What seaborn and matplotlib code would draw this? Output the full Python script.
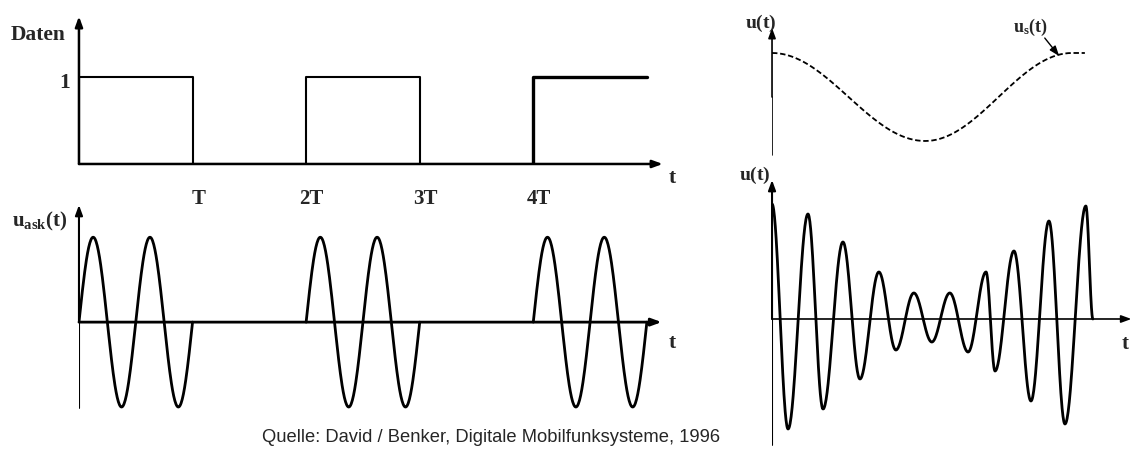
import numpy as np
import pandas as pd
import matplotlib
matplotlib.use("Agg")
import matplotlib.pyplot as plt
import seaborn as sns

# Data: bit sequence and ASK carrier
bits = [1, 0, 1, 0, 1]
bit_labels = ["T", "2T", "3T", "4T"]
cycles_per_bit = 2

# Envelope u_s(t) (top right): extrema
env_t = [0.0, 0.477, 0.935, 0.975]
env_u = [1.0, -1.0, 1.0, 1.0]

# Modulated signal u(t) (bottom right): extrema
mod_t = [0.000, 0.050, 0.112, 0.159, 0.221, 0.274, 0.333, 0.386, 0.442, 0.498,
         0.554, 0.611, 0.667, 0.695, 0.754, 0.807, 0.863, 0.913, 0.978, 1.000]
mod_u = [1.15, -1.10, 1.05, -0.90, 0.77, -0.60, 0.47, -0.31, 0.26, -0.23,
         0.26, -0.33, 0.47, -0.52, 0.68, -0.82, 0.98, -1.05, 1.13, 0.0]

SOURCE = "Quelle: David / Benker, Digitale Mobilfunksysteme, 1996"


def smooth_through(xs, ys, n=40):
    """Draw a smooth stroke through given extrema (half-cosine between points)."""
    out_x, out_y = [], []
    for (x0, y0), (x1, y1) in zip(zip(xs[:-1], ys[:-1]), zip(xs[1:], ys[1:])):
        s = np.linspace(0, 1, n)
        out_x.extend(x0 + (x1 - x0) * s)
        out_y.extend(y0 + (y1 - y0) * (1 - np.cos(np.pi * s)) / 2)
    return pd.DataFrame({"t": out_x, "u": out_y})


def arrow(ax, start, end, lw=1.5):
    ax.annotate("", xy=end, xytext=start,
                arrowprops=dict(arrowstyle="-|>,head_length=0.6,head_width=0.22",
                                lw=lw, color="black", shrinkA=0, shrinkB=0),
                annotation_clip=False)


sns.set_style("white")
plt.rcParams["font.family"] = ["Liberation Serif", "DejaVu Serif"]
plt.rcParams["mathtext.fontset"] = "custom"
plt.rcParams["mathtext.rm"] = "Liberation Serif"
plt.rcParams["mathtext.bf"] = "Liberation Serif:bold"

fig = plt.figure(figsize=(11.33, 4.55), dpi=100)

ax_tl = fig.add_axes([0.0697, 0.6396, 0.5313, 0.3341])
ax_bl = fig.add_axes([0.0697, 0.0868, 0.5313, 0.4758])
ax_tr = fig.add_axes([0.6814, 0.6563, 0.3186, 0.2901])
ax_br = fig.add_axes([0.6814, 0.0132, 0.3186, 0.5978])
for ax in (ax_tl, ax_bl, ax_tr, ax_br):
    ax.axis("off")
    ax.patch.set_visible(False)

# ---- top left: data bits ----
n = len(bits)
step_x = np.repeat(np.arange(n + 1), 2)[1:-1]
step_y = np.repeat(bits, 2)
step_df = pd.DataFrame({"t": np.concatenate([[0], step_x]),
                        "d": np.concatenate([[0], step_y])})
# last bit is drawn with a heavier stroke, as in the scan
sns.lineplot(data=step_df.iloc[:-2], x="t", y="d", sort=False, estimator=None,
             color="black", lw=1.5, ax=ax_tl)
sns.lineplot(data=step_df.iloc[-3:], x="t", y="d", sort=False, estimator=None,
             color="black", lw=2.4, ax=ax_tl)
ax_tl.set_xlim(0, 5.3)
ax_tl.set_ylim(0, 1.75)
arrow(ax_tl, (0, 0), (5.14, 0), lw=1.8)
arrow(ax_tl, (0, 0), (0, 1.70), lw=1.8)
ax_tl.text(-0.12, 1.48, "Daten", ha="right", va="center", fontsize=15.5, fontweight="bold")
ax_tl.text(-0.08, 0.93, "1", ha="right", va="center", fontsize=15.5, fontweight="bold")
ax_tl.text(5.22, -0.16, "t", ha="center", va="center", fontsize=15.5, fontweight="bold")
for i, lab in enumerate(bit_labels, start=1):
    ax_tl.text(i + 0.05, -0.40, lab, ha="center", va="center", fontsize=15, fontweight="bold")

# ---- bottom left: ASK signal ----
segs = []
for k, b in enumerate(bits):
    if b:
        tt = np.linspace(k, k + 1, 200)
        segs.append(pd.DataFrame({"t": tt, "u": b * np.sin(2 * np.pi * cycles_per_bit * (tt - k)),
                                  "seg": k}))
ask_df = pd.concat(segs)
sns.lineplot(data=ask_df, x="t", y="u", units="seg", estimator=None, sort=False,
             color="black", lw=2.0, ax=ax_bl)
ax_bl.set_xlim(0, 5.3)
ax_bl.set_ylim(-1.1, 1.45)
arrow(ax_bl, (0, 0), (5.13, 0), lw=2.0)
ax_bl.plot([0, 0], [-1.01, 0], color="black", lw=1.5)
arrow(ax_bl, (0, 0), (0, 1.38), lw=1.5)
ax_bl.text(-0.10, 1.18, r"$\mathbf{u_{ask}(t)}$", ha="right", va="center", fontsize=15)
ax_bl.text(5.22, -0.25, "t", ha="center", va="center", fontsize=15.5, fontweight="bold")

# ---- top right: envelope ----
env_df = smooth_through(env_t, env_u)
sns.lineplot(data=env_df, x="t", y="u", sort=False, estimator=None,
             color="black", lw=1.3, ls=(0, (3, 1.5)), ax=ax_tr)
ax_tr.set_xlim(0, 1.125)
ax_tr.set_ylim(-1.35, 1.65)
ax_tr.plot([0, 0], [-1.32, 0], color="black", lw=1.2)
arrow(ax_tr, (0, 0), (0, 1.57), lw=1.2)
ax_tr.text(-0.034, 1.68, r"$\mathbf{u(t)}$", ha="center", va="center", fontsize=14)
ax_tr.text(0.86, 1.57, r"$\mathbf{u_{s}(t)}$", ha="right", va="center", fontsize=13)
arrow(ax_tr, (0.85, 1.34), (0.895, 0.93), lw=1.0)

# ---- bottom right: modulated signal ----
mod_df = smooth_through(mod_t, mod_u)
sns.lineplot(data=mod_df, x="t", y="u", sort=False, estimator=None,
             color="black", lw=2.0, ax=ax_br)
ax_br.set_xlim(0, 1.125)
ax_br.set_ylim(-1.3, 1.42)
arrow(ax_br, (0, 0), (1.12, 0), lw=1.2)
ax_br.plot([0, 0], [-1.26, 0], color="black", lw=1.5)
arrow(ax_br, (0, 0), (0, 1.39), lw=1.5)
ax_br.text(-0.053, 1.44, r"$\mathbf{u(t)}$", ha="center", va="center", fontsize=14)
ax_br.text(1.10, -0.25, "t", ha="center", va="center", fontsize=15, fontweight="bold")

fig.text(720 / 1133, 1 - 438 / 455, SOURCE, ha="right", va="center",
         family="Liberation Sans", fontsize=13.2)

fig.savefig("out.png", dpi=100)
